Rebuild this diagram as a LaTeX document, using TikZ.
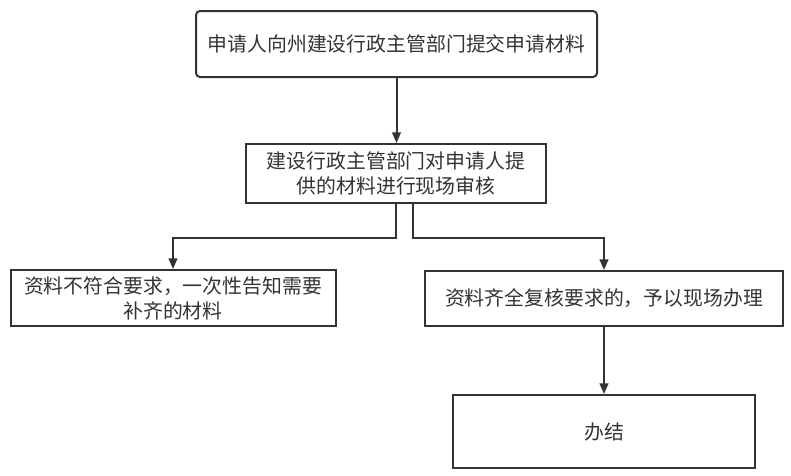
\documentclass[tikz,border=0pt]{standalone}
\usepackage{fontspec}
\setmainfont{Noto Sans CJK SC}
\usetikzlibrary{arrows.meta}
\definecolor{ink}{HTML}{333333}
\tikzset{
  box/.style={draw=ink, line width=1.5pt, fill=white, inner sep=0pt, align=center,
    text=ink, font=\fontsize{14.9pt}{18.75pt}\selectfont},
  arr/.style={draw=ink, line width=1.5pt, -{Triangle[length=8pt,width=6.5pt]}}
}
\begin{document}
\begin{tikzpicture}[x=0.75pt,y=-0.75pt]
\useasboundingbox (0,0) rectangle (791,475);
\node[box, rounded corners=3pt, minimum width=300.75pt, minimum height=49.5pt] (b1) at (396.5,44) {申请人向州建设行政主管部门提交申请材料};
\node[box, minimum width=225pt, minimum height=44.25pt] (b2) at (396,173.5) {建设行政主管部门对申请人提\\供的材料进行现场审核};
\node[box, minimum width=243.75pt, minimum height=42pt] (b3) at (173,298) {资料不符合要求，一次性告知需要\\补齐的材料};
\node[box, minimum width=268.5pt, minimum height=41.25pt] (b4) at (604,298.5) {资料齐全复核要求的，予以现场办理};
\node[box, minimum width=226.5pt, minimum height=54.75pt] (b5) at (604,431.5) {办结};
\draw[arr] (b1.south) -- (b1.south |- b2.north);
\draw[arr] ([xshift=-0.375pt]b2.south) -- ++(0,34) -| (b3.north);
\draw[arr] ([xshift=12.75pt]b2.south) -- ++(0,34) -| (b4.north);
\draw[arr] (b4.south) -- (b5.north);
\end{tikzpicture}
\end{document}
